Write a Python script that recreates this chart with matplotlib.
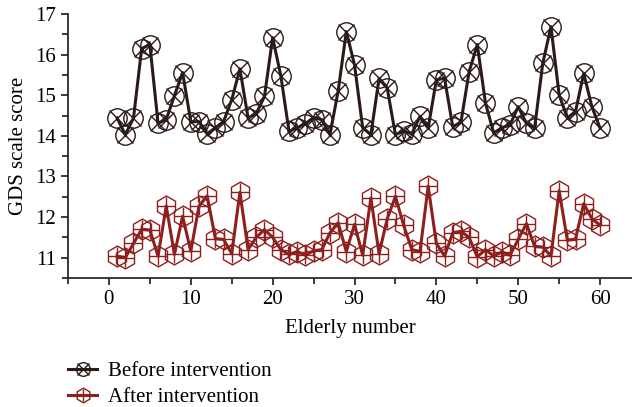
import numpy as np
import matplotlib
matplotlib.use('Agg')
import matplotlib.pyplot as plt
from matplotlib.ticker import MultipleLocator

plt.rcParams['font.family'] = ['Liberation Serif', 'DejaVu Serif']

elderly = list(range(1, 61))

before = [14.44, 14.03, 14.44, 16.15, 16.25, 14.31, 14.40, 14.99, 15.56, 14.35,
          14.35, 14.05, 14.20, 14.35, 14.89, 15.65, 14.44, 14.55, 14.97, 16.42,
          15.48, 14.11, 14.20, 14.30, 14.45, 14.40, 14.03, 15.10, 16.57, 15.75,
          14.20, 14.03, 15.42, 15.17, 14.03, 14.12, 14.05, 14.48, 14.19, 15.38,
          15.42, 14.23, 14.33, 15.58, 16.25, 14.81, 14.07, 14.20, 14.27, 14.72,
          14.31, 14.19, 15.79, 16.69, 15.01, 14.44, 14.60, 15.54, 14.72, 14.19]

after = [11.04, 11.00, 11.35, 11.70, 11.68, 11.04, 12.27, 11.08, 12.02, 11.16,
         12.27, 12.52, 11.47, 11.45, 11.10, 12.61, 11.20, 11.50, 11.69, 11.50,
         11.20, 11.08, 11.15, 11.06, 11.17, 11.20, 11.61, 11.86, 11.15, 11.82,
         11.06, 12.47, 11.10, 11.96, 12.51, 11.80, 11.20, 11.15, 12.76, 11.35,
         11.04, 11.61, 11.65, 11.50, 11.02, 11.20, 11.04, 11.14, 11.06, 11.45,
         11.84, 11.28, 11.26, 11.04, 12.65, 11.43, 11.46, 12.33, 11.96, 11.80]

c_before = '#2a1b18'
c_after = '#8e1f1c'

fig = plt.figure(figsize=(6.32, 4.07), dpi=100)
ax = fig.add_axes([0.1076, 0.317, 0.8924, 0.6484])

l1, = ax.plot(elderly, before, '-', color=c_before, lw=2.2, marker='o', ms=14,
              mfc='none', mec=c_before, mew=1.0)
m1, = ax.plot(elderly, before, 'x', color=c_before, ms=12, mew=1.0)
l2, = ax.plot(elderly, after, '-', color=c_after, lw=2.2, marker='h', ms=15,
              mfc='none', mec=c_after, mew=1.0)
m2, = ax.plot(elderly, after, '+', color=c_after, ms=13, mew=1.0)

ax.set_xlim(-5, 63.9)
ax.set_ylim(10.5, 17)
ax.xaxis.set_major_locator(MultipleLocator(10))
ax.xaxis.set_minor_locator(MultipleLocator(5))
ax.yaxis.set_major_locator(MultipleLocator(1))
ax.yaxis.set_minor_locator(MultipleLocator(0.5))
ax.spines['top'].set_visible(False)
ax.spines['right'].set_visible(False)
for s in ['left', 'bottom']:
    ax.spines[s].set_linewidth(1.3)
    ax.spines[s].set_color('#2b2b2b')
ax.tick_params(which='both', direction='out', width=1.3, color='#2b2b2b', labelsize=15)
ax.tick_params(which='major', length=5)
ax.tick_params(which='minor', length=4)
ax.set_xlabel('Elderly number', fontsize=15, labelpad=7)
ax.set_ylabel('GDS scale score', fontsize=15, labelpad=5)

fig.legend([(l1, m1), (l2, m2)], ['Before intervention', 'After intervention'],
           loc='upper left', bbox_to_anchor=(0.108, 0.112), frameon=False,
           fontsize=15, markerscale=0.7, handlelength=1.4, handletextpad=0.5,
           labelspacing=0.3, borderpad=0, borderaxespad=0)

fig.savefig('out.png', dpi=100)
